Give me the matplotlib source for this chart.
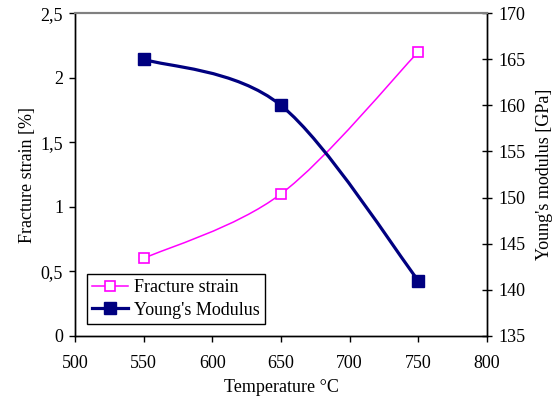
import matplotlib
matplotlib.use("Agg")
import matplotlib.pyplot as plt
from matplotlib.path import Path
from matplotlib.patches import PathPatch
from matplotlib.lines import Line2D
from matplotlib.ticker import FuncFormatter

# data
temperature = [550, 650, 750]
fracture_strain = [0.6, 1.1, 2.2]      # %
youngs_modulus = [165, 160, 141]       # GPa

plt.rcParams['font.family'] = ['Liberation Serif', 'DejaVu Serif']
FS = 13

def smooth_path(xs, ys):
    # Excel-like smoothed line : Catmull-Rom as cubic Bezier segments
    pts = list(zip(xs, ys))
    verts = [pts[0]]
    codes = [Path.MOVETO]
    n = len(pts)
    for i in range(n - 1):
        p0 = pts[i - 1] if i > 0 else pts[i]
        p1 = pts[i]
        p2 = pts[i + 1]
        p3 = pts[i + 2] if i + 2 < n else pts[i + 1]
        c1 = (p1[0] + (p2[0] - p0[0]) / 6, p1[1] + (p2[1] - p0[1]) / 6)
        c2 = (p2[0] - (p3[0] - p1[0]) / 6, p2[1] - (p3[1] - p1[1]) / 6)
        verts += [c1, c2, p2]
        codes += [Path.CURVE4] * 3
    return Path(verts, codes)

def comma(v, pos):
    return f"{v:g}".replace(".", ",")

fig = plt.figure(figsize=(5.55, 3.98), dpi=100)
ax = fig.add_axes([0.135, 0.156, 0.7425, 0.811])
ax2 = ax.twinx()

pink = "#FF00FF"
navy = "#000080"

ax.add_patch(PathPatch(smooth_path(temperature, fracture_strain), fill=False,
                       edgecolor=pink, lw=1.1))
ax.plot(temperature, fracture_strain, ls="none", marker="s", ms=7.5,
        mfc="white", mec=pink, mew=1.2)

ax2.add_patch(PathPatch(smooth_path(temperature, youngs_modulus), fill=False,
                        edgecolor=navy, lw=2.3))
ax2.plot(temperature, youngs_modulus, ls="none", marker="s", ms=8.5,
         mfc=navy, mec=navy)

ax.set_xlim(500, 800)
ax.set_ylim(0, 2.5)
ax2.set_ylim(135, 170)
ax.set_xticks([500, 550, 600, 650, 700, 750, 800])
ax.set_yticks([0, 0.5, 1, 1.5, 2, 2.5])
ax2.set_yticks(range(135, 171, 5))
ax.yaxis.set_major_formatter(FuncFormatter(comma))

ax.set_xlabel("Temperature °C", fontsize=FS, labelpad=5)
ax.set_ylabel("Fracture strain [%]", fontsize=FS, labelpad=3)
ax2.set_ylabel("Young's modulus [GPa]", fontsize=FS, labelpad=7)

ax.tick_params(axis="x", direction="out", length=4.5, width=1, labelsize=FS, pad=9)
ax.tick_params(axis="y", direction="out", length=4.5, width=1, labelsize=FS, pad=4)
ax2.tick_params(axis="y", direction="inout", length=7, width=1, labelsize=FS, pad=5)

for a in (ax, ax2):
    a.spines["top"].set_color("#808080")
    a.spines["top"].set_linewidth(1.5)
    for s in ("left", "right", "bottom"):
        a.spines[s].set_color("black")
        a.spines[s].set_linewidth(1)

handles = [
    Line2D([], [], color=pink, lw=1.1, marker="s", ms=7.5, mfc="white", mec=pink, mew=1.2),
    Line2D([], [], color=navy, lw=2.3, marker="s", ms=8.5, mfc=navy, mec=navy),
]
leg = ax2.legend(handles, ["Fracture strain", "Young's Modulus"], loc="lower left",
                 bbox_to_anchor=(0.029, 0.037), borderaxespad=0, fontsize=FS,
                 fancybox=False, framealpha=1, edgecolor="black",
                 handlelength=2.0, handletextpad=0.3, borderpad=0.3,
                 labelspacing=0.3)
leg.get_frame().set_linewidth(1)

fig.savefig("out.png", dpi=100)
